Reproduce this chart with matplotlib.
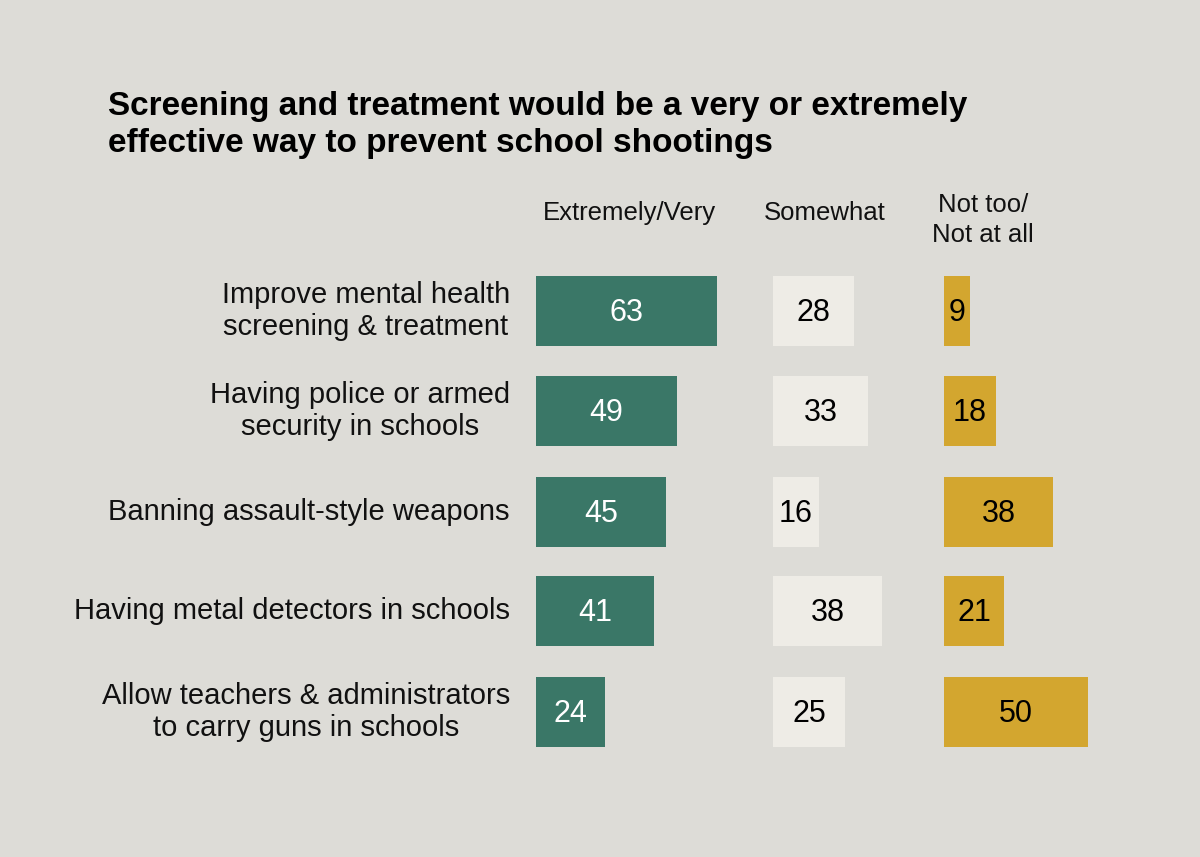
import numpy as np
import matplotlib.pyplot as plt

plt.rcParams['font.family'] = ['Liberation Sans', 'DejaVu Sans']

# data
categories = ['Improve mental health\nscreening & treatment',
              'Having police or armed\nsecurity in schools',
              'Banning assault-style weapons',
              'Having metal detectors in schools',
              'Allow teachers & administrators\nto carry guns in schools']
headers = ['Extremely/Very', 'Somewhat', 'Not too/\nNot at all']
very = [63, 49, 45, 41, 24]
somewhat = [28, 33, 16, 38, 25]
not_too = [9, 18, 38, 21, 50]

title = ('Screening and treatment would be a very or extremely\n'
         'effective way to prevent school shootings')

# layout (pixels of a 1200x857 canvas, x also as percent points)
W, H = 1200, 857
PX = 2.88                      # pixels per percentage point
row_y = [311, 411, 512, 611, 712]
col_left = [536, 773, 944]     # px
bar_h = 70
colors = ['#3a7767', '#eeece6', '#d3a62f']
txt_colors = ['white', 'black', 'black']
bg = '#dddcd7'

fig = plt.figure(figsize=(12, 8.57), dpi=100)
fig.patch.set_facecolor(bg)
ax = fig.add_axes([0, 0, 1, 1])
ax.set_facecolor(bg)
ax.set_xlim(0, W / PX)
ax.set_ylim(H, 0)
ax.axis('off')

series = [very, somewhat, not_too]
for vals, left, c, tc in zip(series, col_left, colors, txt_colors):
    x0 = left / PX
    bars = ax.barh(row_y, vals, left=x0, height=bar_h, color=c, edgecolor='none')
    for b, v in zip(bars, vals):
        ax.text(b.get_x() + b.get_width() / 2, b.get_y() + b.get_height() / 2 + 2,
                str(v), ha='center', va='center', fontsize=22, color=tc)

# category labels
for y, cat in zip(row_y, categories):
    ax.text(510 / PX, y, cat, ha='right', va='center', multialignment='center',
            fontsize=21, color='#111111', linespacing=1.22)

# column headers
header_x = [629, 825, 983]
header_y = [213, 213, 220]
for hx, hy, h in zip(header_x, header_y, headers):
    ax.text(hx / PX, hy, h, ha='center', va='center',
            fontsize=18.5, color='#111111', linespacing=1.33)

fig.text(108 / W, 1 - 125 / H, title, ha='left', va='center', fontsize=24,
         fontweight='bold', color='black', linespacing=1.25)

fig.savefig('out.png', dpi=100, facecolor=bg)
